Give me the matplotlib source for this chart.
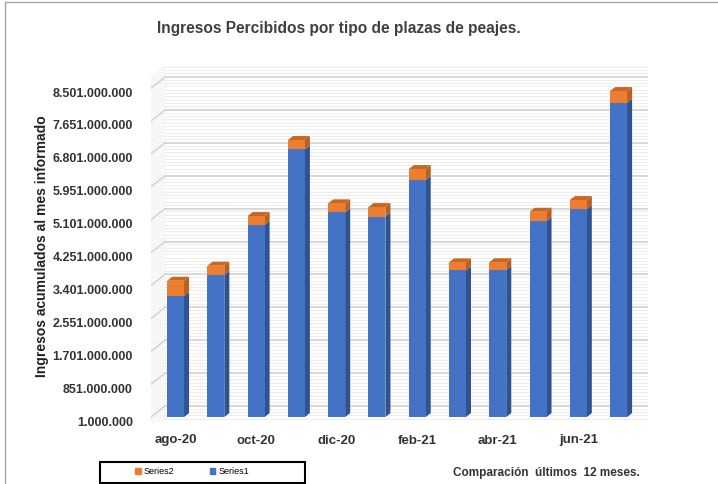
import numpy as np
import matplotlib.pyplot as plt
import matplotlib.transforms as mtransforms
from matplotlib.patches import Polygon, Rectangle, Patch

plt.rcParams['font.family'] = ['Liberation Sans', 'DejaVu Sans']

# data (in pesos)
months = ['ago-20', 'sep-20', 'oct-20', 'nov-20', 'dic-20', 'ene-21',
          'feb-21', 'mar-21', 'abr-21', 'may-21', 'jun-21', 'jul-21']
series1 = [3127e6, 3669e6, 4961e6, 6917e6, 5290e6, 5176e6,
           6124e6, 3791e6, 3800e6, 5065e6, 5367e6, 8122e6]
series2 = [395e6, 241e6, 233e6, 241e6, 232e6, 250e6,
           284e6, 206e6, 200e6, 240e6, 240e6, 302e6]
yticks = [1e6 + 850e6 * i for i in range(11)]
ytick_labels = ['1.000.000', '851.000.000', '1.701.000.000', '2.551.000.000',
                '3.401.000.000', '4.251.000.000', '5.101.000.000', '5.951.000.000',
                '6.801.000.000', '7.651.000.000', '8.501.000.000']

blue, blue_side = '#4472C4', '#2F5290'
orange, orange_side, orange_top = '#ED7D31', '#B8601F', '#C8671F'

fig = plt.figure(figsize=(7.18, 4.84), dpi=100)
ax = fig.add_axes([151/718, 1-422/484, (648-151)/718, (422-65)/484])

x = np.arange(len(months))
w = 0.42
dx = 0.125          # bar depth (x)
dy = 103e6          # bar depth (y)
wall_dx = 0.35      # side wall depth
wall_dy = 285e6     # back wall offset
xl, xr = -0.61, 11.73
ymin, ymax = -128e6, 9097e6

# walls: minor + major lines
minor = np.arange(ymin, ymax, 85e6)
for v in minor:
    ax.plot([xl + wall_dx, xr], [v, v], color='#eeeeee', lw=0.8, zorder=0)
    ax.plot([xl, xl + wall_dx], [v - wall_dy, v], color='#eeeeee', lw=0.8, zorder=0)
for v in yticks:
    ax.plot([xl + wall_dx, xr], [v + wall_dy, v + wall_dy], color='#d4d4d4', lw=1.2, zorder=1)
    ax.plot([xl, xl + wall_dx], [v, v + wall_dy], color='#d4d4d4', lw=1.2, zorder=1)

def box(ax, xc, y0, y1, front, side, top):
    ax.add_patch(Polygon([(xc + w/2, y0), (xc + w/2 + dx, y0 + dy),
                          (xc + w/2 + dx, y1 + dy), (xc + w/2, y1)],
                         closed=True, fc=side, ec='none', zorder=3))
    if top is not None:
        ax.add_patch(Polygon([(xc - w/2, y1), (xc - w/2 + dx, y1 + dy),
                              (xc + w/2 + dx, y1 + dy), (xc + w/2, y1)],
                             closed=True, fc=top, ec='none', zorder=3))

for xi, s1, s2 in zip(x, series1, series2):
    box(ax, xi, 0, s1, blue, blue_side, None)
    box(ax, xi, s1, s1 + s2, orange, orange_side, orange_top)

ax.bar(x, series1, width=w, color=blue, zorder=4)
ax.bar(x, series2, width=w, bottom=series1, color=orange, zorder=4)

ax.set_xlim(xl, xr)
ax.set_ylim(ymin, ymax)
ax.set_yticks(yticks)
ax.set_yticklabels(ytick_labels, fontsize=9, fontweight='bold', color='#333333')
ax.set_xticks(x[::2])
ax.set_xticklabels(months[::2], fontsize=9.5, fontweight='bold', color='#333333')
ax.tick_params(length=0, axis='y', pad=13)
ax.tick_params(length=0, axis='x', pad=9)
shift = mtransforms.ScaledTranslation(0, -4/100, fig.dpi_scale_trans)
for lab in ax.get_yticklabels():
    lab.set_transform(lab.get_transform() + shift)
for s in ax.spines.values():
    s.set_visible(False)

fig.text(42/718, 1-246/484, 'Ingresos acumulados al mes informado', rotation=90,
         ha='center', va='center', fontsize=10, fontweight='bold', color='#222222')
fig.text(339/718, 1-28/484, 'Ingresos Percibidos por tipo de plazas de peajes.',
         ha='center', va='center', fontsize=11.2, fontweight='bold', color='#404040')
fig.text(453/718, 1-473/484, 'Comparación  últimos  12 meses.',
         ha='left', va='center', fontsize=8.5, fontweight='bold', color='#333333')

# legend box
fig.patches.append(Rectangle((100/718, 1-483/484), 205/718, 21/484,
                             transform=fig.transFigure, fill=False,
                             ec='black', lw=1.5))
fig.legend(handles=[Patch(color=orange, label='Series2'), Patch(color=blue, label='Series1')],
           loc='center', bbox_to_anchor=(192/718, 1-472/484), ncol=2, frameon=False,
           fontsize=6.5, handlelength=0.6, handleheight=0.6, handletextpad=0.3,
           columnspacing=4)

# outer border
fig.patches.append(Rectangle((5/718, -0.1), 1.2, 1.1 - 2/484,
                             transform=fig.transFigure, fill=False,
                             ec='#a6a6a6', lw=1))

fig.savefig('out.png', dpi=100)
